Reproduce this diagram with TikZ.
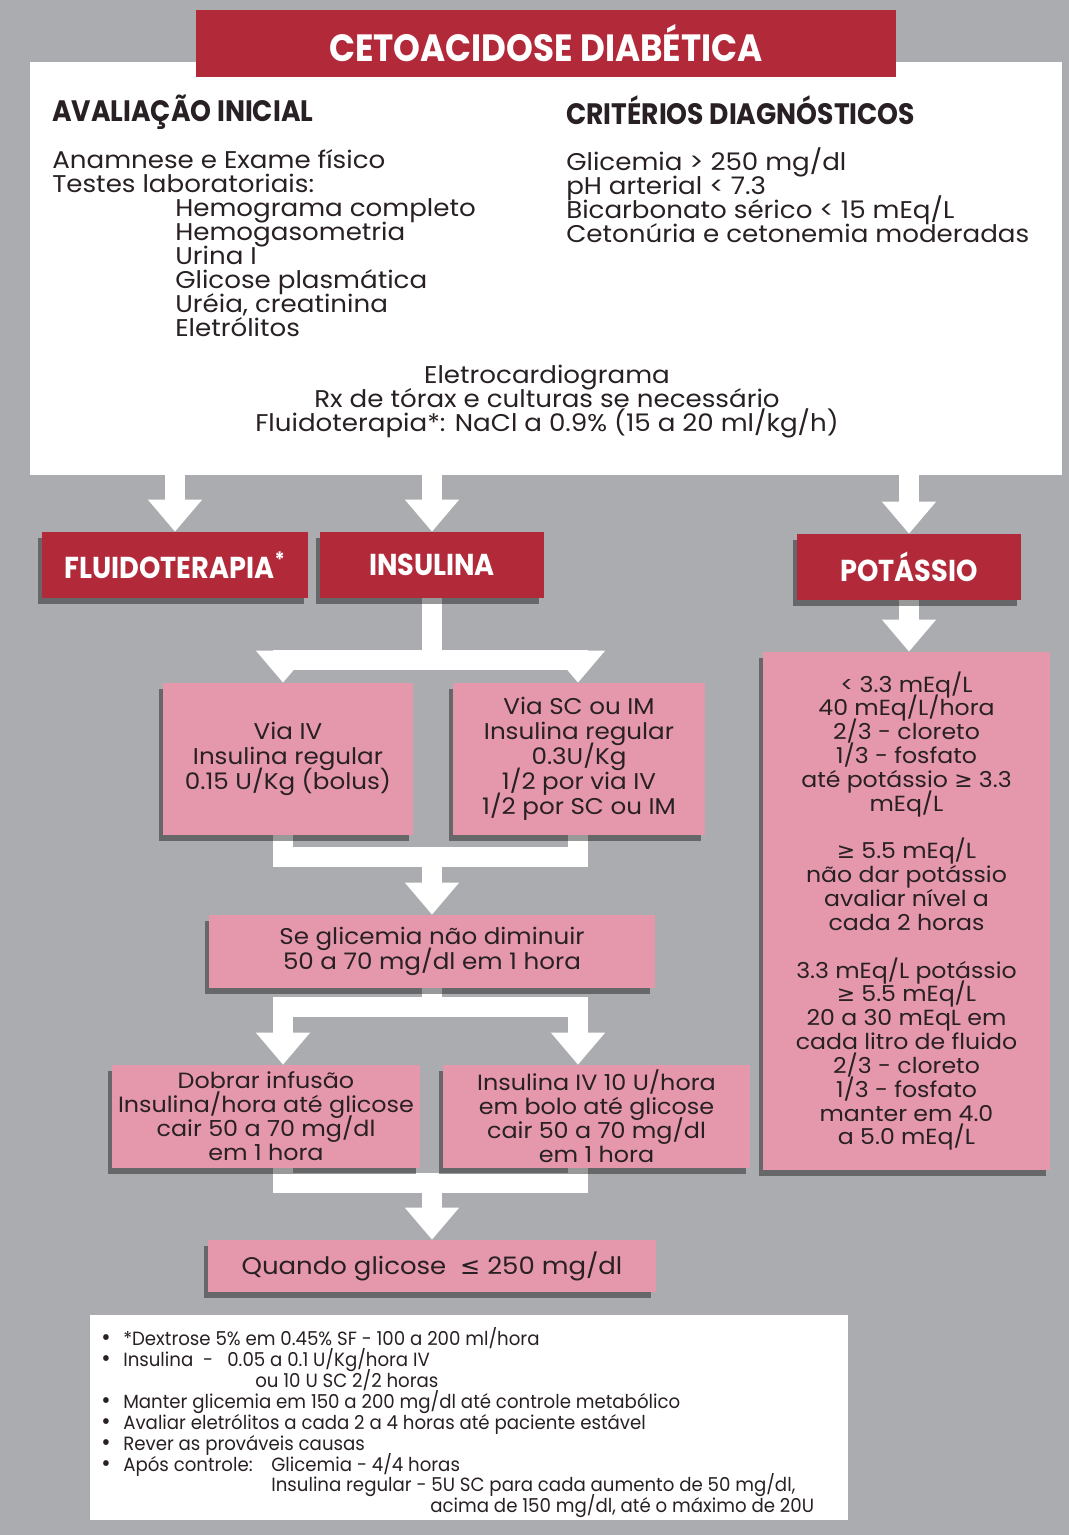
\documentclass[tikz,border=0pt]{standalone}
\usepackage{fontspec}
\setmainfont{Poppins}[FakeStretch=1.08]
\newfontfamily\headfont[FakeStretch=0.9]{Poppins}
\newfontfamily\notefont[FakeStretch=0.95]{Poppins}
\newfontfamily\symfont{DejaVu Sans}
\usetikzlibrary{arrows.meta,positioning,shadows}
\definecolor{bggrey}{RGB}{170,172,175}
\definecolor{ketored}{RGB}{178,42,58}
\definecolor{ketopink}{RGB}{229,152,172}
\definecolor{ink}{RGB}{40,32,36}
\newcommand{\maiorig}{{\symfont ≥}}
\newcommand{\menorig}{{\symfont ≤}}
\newcommand{\marca}{\makebox[0.55cm][l]{\fontsize{17}{14.9}\selectfont\textbullet}}
\setlength{\lineskiplimit}{-50pt}
\pgfdeclarelayer{fundo}
\pgfdeclarelayer{setas}
\pgfsetlayers{fundo,setas,main}
\tikzset{
  sombra/.style={drop shadow={shadow xshift=-3pt,shadow yshift=-4pt,opacity=0.4,fill=black}},
  redbox/.style={fill=ketored,text=white,inner sep=0pt,sombra,
    font=\headfont\bfseries\fontsize{21.5}{21.5}\selectfont},
  pinkbox/.style={fill=ketopink,text=ink,inner sep=0pt,align=center,sombra,
    font=\fontsize{16.2}{17.7}\selectfont},
  bodytext/.style={text=ink,inner sep=0pt,font=\fontsize{17.2}{17.1}\selectfont},
  headtext/.style={text=ink,inner sep=0pt,font=\headfont\bfseries\fontsize{21}{21}\selectfont},
  flow/.style={draw=white,line width=0.48cm,line join=miter,-{Triangle[width=1.3cm,length=0.8cm]}},
  flowbar/.style={draw=white,line width=0.48cm,line join=miter,line cap=rect},
}
\begin{document}
\begin{tikzpicture}[x=0.025cm,y=-0.025cm]
  \useasboundingbox (0,0) rectangle (1069,1535);
  \begin{pgfonlayer}{fundo}
    \fill[bggrey] (0,0) rectangle (1069,1535);
    \node[fill=white,inner sep=0pt,minimum width=25.8cm,minimum height=10.325cm] (aval) at (546,268.5) {};
  \end{pgfonlayer}

  % titulo
  \node[fill=ketored,text=white,inner sep=0pt,minimum width=17.5cm,minimum height=1.675cm,
    font=\headfont\bfseries\fontsize{27}{27}\selectfont] (titulo) at (546,43.5) {CETOACIDOSE DIABÉTICA};

  % avaliacao inicial / criterios
  \node[headtext,anchor=west] (avalhead) at (52,112) {AVALIAÇÃO INICIAL};
  \node[headtext,anchor=west] (crithead) at (566,110) {CRITÉRIOS DIAGNÓSTICOS};
  \node[bodytext,anchor=north west,align=left] (avallist) at (52,149) {Anamnese e Exame físico\\
    Testes laboratoriais:\\
    \hspace*{3.075cm}Hemograma completo\\
    \hspace*{3.075cm}Hemogasometria\\
    \hspace*{3.075cm}Urina I\\
    \hspace*{3.075cm}Glicose plasmática\\
    \hspace*{3.075cm}Uréia, creatinina\\
    \hspace*{3.075cm}Eletrólitos};
  \node[bodytext,anchor=north west,align=left] (critlist) at (566,147) {Glicemia > 250 mg/dl\\
    pH arterial < 7.3\\
    Bicarbonato sérico < 15 mEq/L\\
    Cetonúria e cetonemia moderadas};
  \node[bodytext,align=center] (exames) at (547,402) {Eletrocardiograma\\
    Rx de tórax e culturas se necessário\\
    Fluidoterapia*: NaCl a 0.9\% (15 a 20 ml/kg/h)};

  % tratamento
  \node[redbox,minimum width=6.65cm,minimum height=1.65cm] (fluido) at (175,565) {FLUIDOTERAPIA\textsuperscript{*}};
  \node[redbox,minimum width=5.575cm,minimum height=1.65cm] (insulina) at (432,565) {INSULINA};
  \node[redbox,minimum width=5.6cm,minimum height=1.65cm] (potassio) at (909,567) {POTÁSSIO};

  \node[pinkbox,minimum width=6.25cm,minimum height=3.8cm] (viaiv) at (288,759) {Via IV\\ Insulina regular\\ 0.15 U/Kg (bolus)};
  \node[pinkbox,minimum width=6.3cm,minimum height=3.8cm] (viasc) at (579,759) {Via SC ou IM\\ Insulina regular\\ 0.3U/Kg\\ 1/2 por via IV\\ 1/2 por SC ou IM};
  \node[pinkbox,minimum width=11.125cm,minimum height=1.825cm] (seglic) at (432,951.5) {Se glicemia não diminuir\\ 50 a 70 mg/dl em 1 hora};
  \node[pinkbox,minimum width=7.7cm,minimum height=2.575cm,font=\fontsize{15.7}{17}\selectfont] (dobrar) at (266,1116.5) {Dobrar infusão\\ Insulina/hora até glicose\\ cair 50 a 70 mg/dl\\ em 1 hora};
  \node[pinkbox,minimum width=7.675cm,minimum height=2.575cm,font=\fontsize{15.7}{17}\selectfont] (insiv) at (596.5,1116.5) {Insulina IV 10 U/hora\\ em bolo até glicose\\ cair 50 a 70 mg/dl\\ em 1 hora};
  \node[pinkbox,minimum width=11.175cm,minimum height=1.3cm,font=\fontsize{17.1}{17.1}\selectfont] (quando) at (432,1266) {Quando glicose \ \menorig\ 250 mg/dl};
  \node[pinkbox,minimum width=7.175cm,minimum height=12.95cm,font=\fontsize{15.55}{16.95}\selectfont] (potbox) at (906.5,911) {< 3.3 mEq/L\\ 40 mEq/L/hora\\ 2/3 - cloreto\\ 1/3 - fosfato\\
    até potássio \maiorig\ 3.3\\ mEq/L\\ ~\\
    \maiorig\ 5.5 mEq/L\\ não dar potássio\\ avaliar nível a\\ cada 2 horas\\ ~\\
    3.3 mEq/L potássio\\ \maiorig\ 5.5 mEq/L\\ 20 a 30 mEqL em\\ cada litro de fluido\\
    2/3 - cloreto\\ 1/3 - fosfato\\ manter em 4.0\\ a 5.0 mEq/L};

  % notas
  \node[fill=white,inner sep=0pt,minimum width=18.95cm,minimum height=5.125cm] (notas) at (469,1417.5) {};
  \node[text=ink,inner sep=0pt,anchor=north west,align=left,font=\notefont\fontsize{13.6}{14.9}\selectfont] (notastxt) at (101,1327) {%
    \marca *Dextrose 5\% em 0.45\% SF - 100 a 200 ml/hora\\
    \marca \makebox[2.6cm][l]{Insulina\ \ -}0.05 a 0.1 U/Kg/hora IV\\
    \hspace*{0.55cm}\hspace*{3.3cm}ou 10 U SC 2/2 horas\\
    \marca Manter glicemia em 150 a 200 mg/dl até controle metabólico\\
    \marca Avaliar eletrólitos a cada 2 a 4 horas até paciente estável\\
    \marca Rever as prováveis causas\\
    \marca \makebox[3.7cm][l]{Após controle:}Glicemia - 4/4 horas\\
    \hspace*{0.55cm}\hspace*{3.7cm}Insulina regular - 5U SC para cada aumento de 50 mg/dl,\\
    \hspace*{0.55cm}\hspace*{7.675cm}acima de 150 mg/dl, até o máximo de 20U};

  % setas
  \coordinate (ramo1e) at (283,660);
  \coordinate (ramo1d) at (578,660);
  \coordinate (junta1) at (432,857);
  \coordinate (junta1e) at (283,857);
  \coordinate (junta1d) at (578,857);
  \coordinate (ramo2) at (432,1007);
  \coordinate (ramo2e) at (283,1007);
  \coordinate (ramo2d) at (578,1007);
  \coordinate (junta3) at (432,1183);
  \coordinate (junta3e) at (283,1183);
  \coordinate (junta3d) at (578,1183);
  \begin{pgfonlayer}{setas}
    \draw[flow] (aval.south -| fluido.north) -- (fluido.north);
    \draw[flow] (aval.south -| insulina.north) -- (insulina.north);
    \draw[flow] (aval.south -| potassio.north) -- (potassio.north);
    \draw[flow] (potassio.south) -- (potassio.south |- potbox.north);

    \draw[flowbar] (insulina.south) -- (insulina.south |- ramo1e);
    \draw[flowbar] (ramo1e) -- (ramo1d);
    \draw[flow] (ramo1e) -- (ramo1e |- viaiv.north);
    \draw[flow] (ramo1d) -- (ramo1d |- viasc.north);

    \draw[flowbar] (junta1e |- viaiv.south) -- (junta1e) -- (junta1d) -- (junta1d |- viasc.south);
    \draw[flow] (junta1) -- (seglic.north);

    \draw[flowbar] (seglic.south) -- (ramo2);
    \draw[flowbar] (ramo2e) -- (ramo2d);
    \draw[flow] (ramo2e) -- (ramo2e |- dobrar.north);
    \draw[flow] (ramo2d) -- (ramo2d |- insiv.north);

    \draw[flowbar] (junta3e |- dobrar.south) -- (junta3e) -- (junta3d) -- (junta3d |- insiv.south);
    \draw[flow] (junta3) -- (quando.north);
  \end{pgfonlayer}
\end{tikzpicture}
\end{document}
